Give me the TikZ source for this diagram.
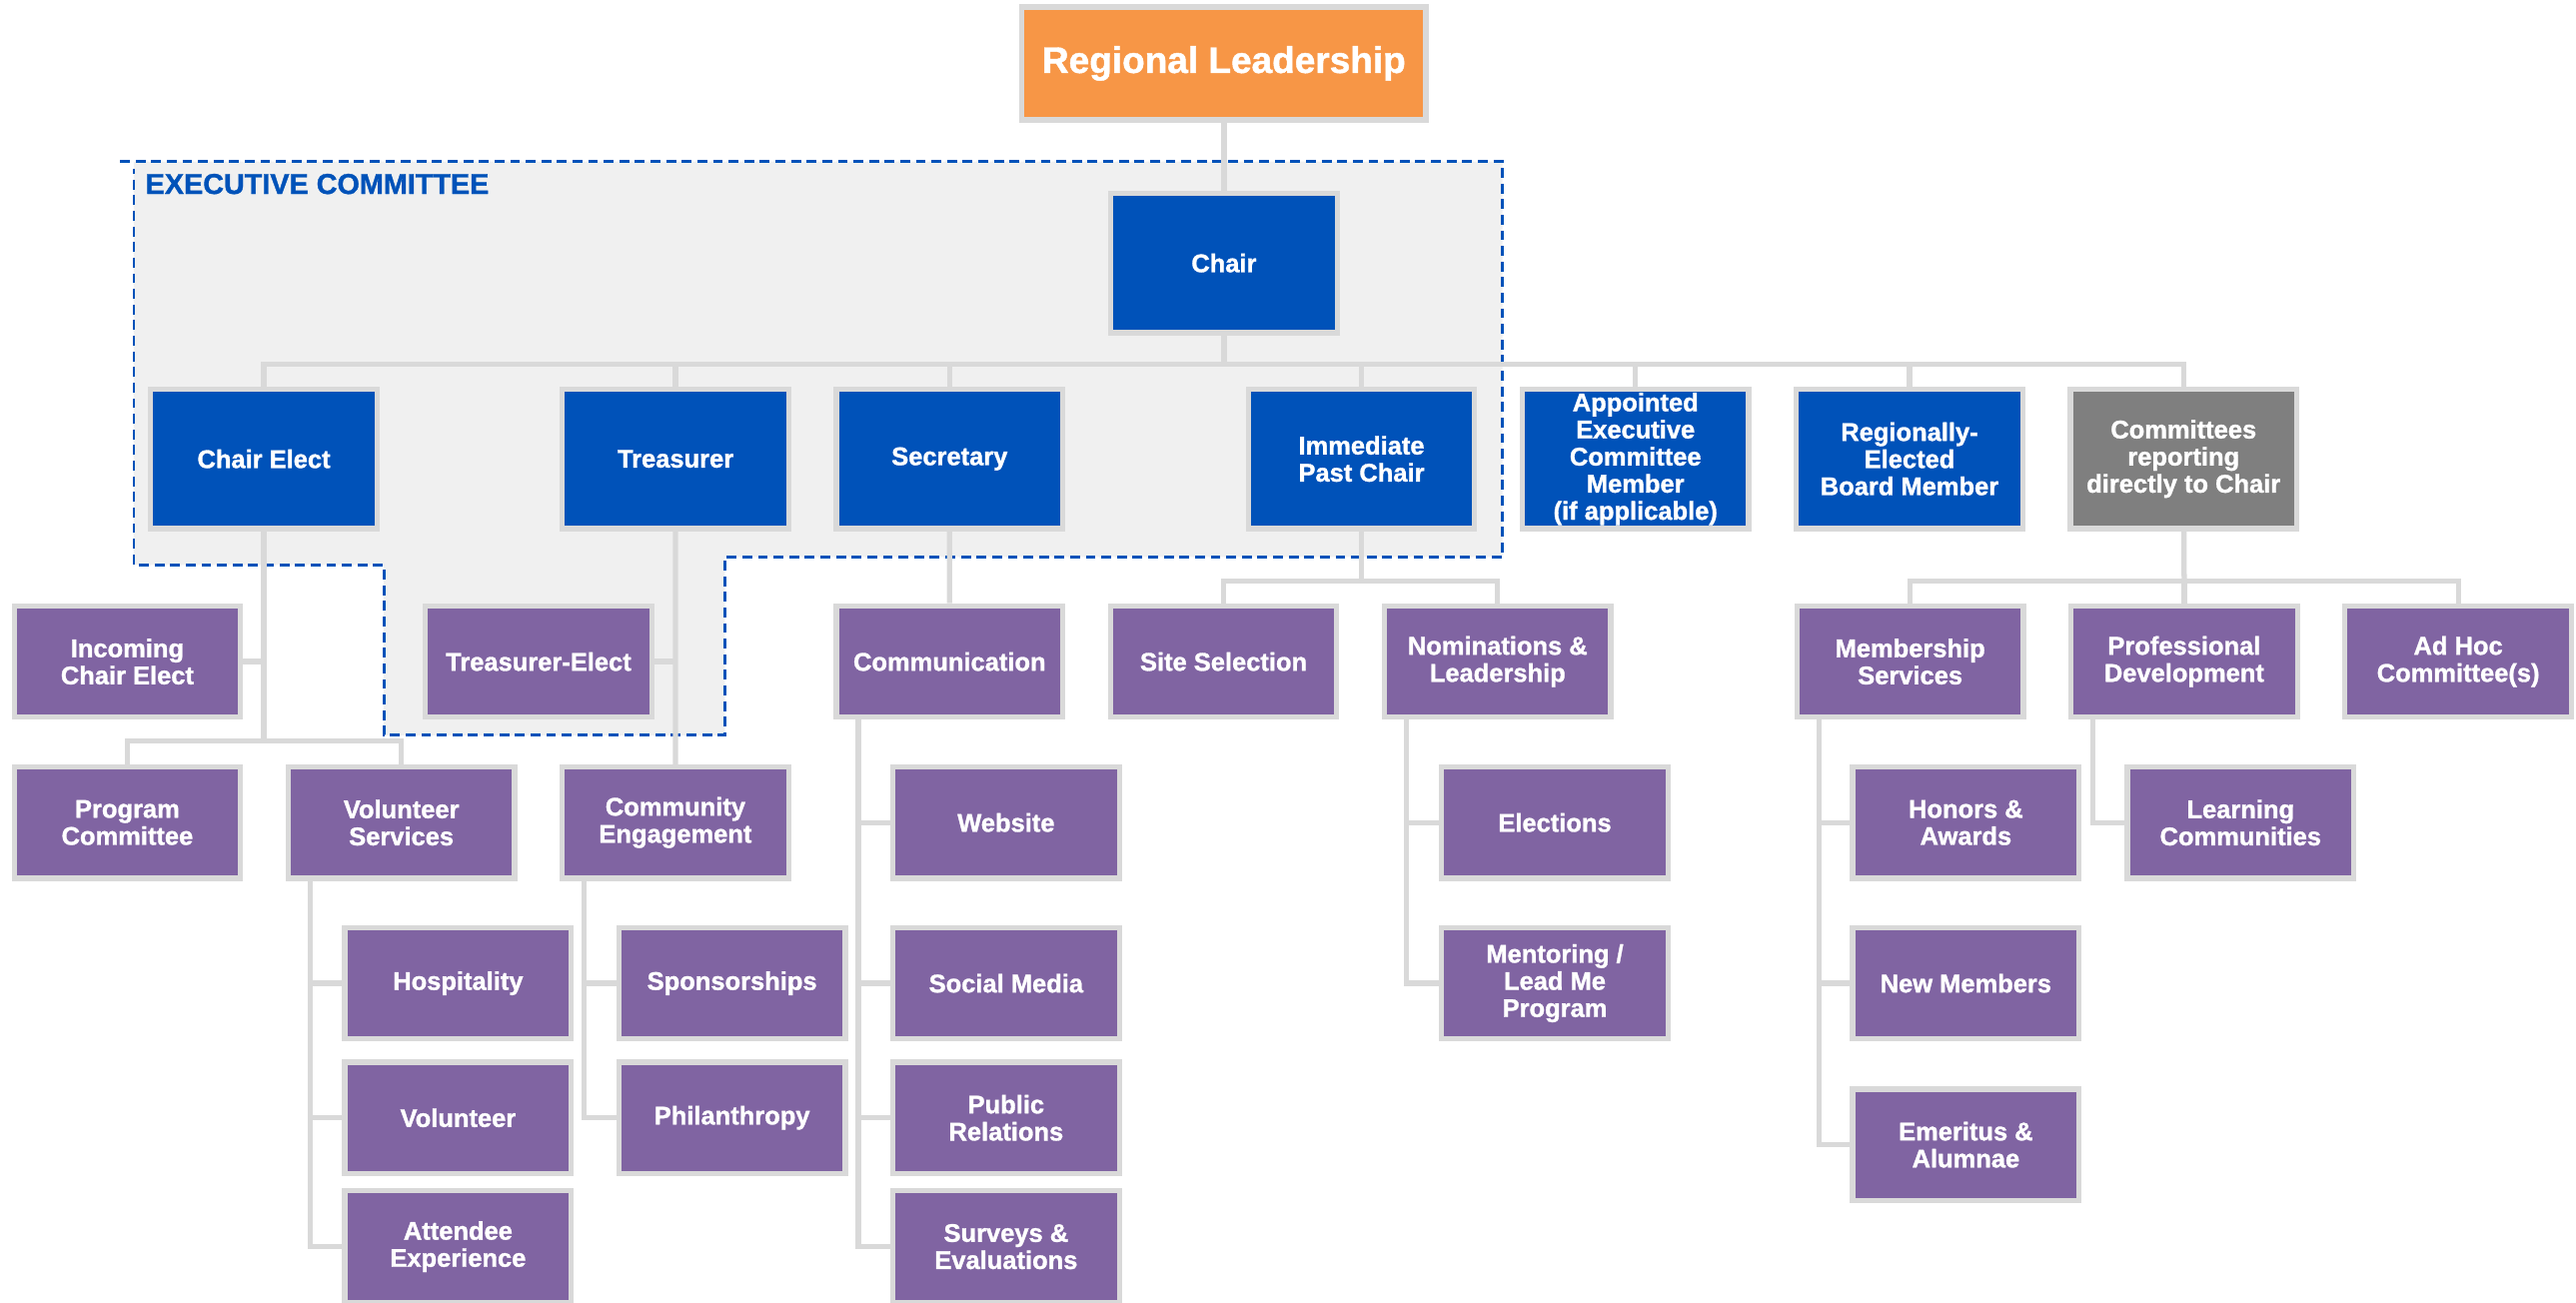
\documentclass[tikz,border=0pt]{standalone}
\usepackage{fontspec}
\setmainfont{Liberation Sans}[BoldFeatures={FakeBold=1.2}]
\usetikzlibrary{positioning}

\definecolor{leadorange}{HTML}{F79646}
\definecolor{execblue}{HTML}{0052B9}
\definecolor{teampurple}{HTML}{8064A2}
\definecolor{directgray}{HTML}{7F7F7F}
\definecolor{linegray}{HTML}{D9D9D9}
\definecolor{regionfill}{HTML}{F0F0F0}

\begin{document}
\begin{tikzpicture}[%
    x=1pt,
    y=-1pt,
    node distance=25.8pt,
    orgbox/.style={%
      rectangle,
      draw=linegray,
      line width=3.2pt,
      minimum width=137.8pt,
      minimum height=67.8pt,
      inner sep=0pt,
      align=center,
      text=white,
      font=\bfseries\fontsize{15.5}{16.5}\selectfont
    },
    officer/.style={orgbox, fill=execblue, minimum height=84.8pt},
    team/.style={orgbox, fill=teampurple},
    link/.style={linegray, line width=3.2pt}
  ]
    \useasboundingbox (0,0) rectangle (1568,793);

    % executive committee area
    \fill[regionfill] (81.5,98.3) -- (914.6,98.3) -- (914.6,339) -- (441.2,339)
        -- (441.2,447.5) -- (233.6,447.5) -- (233.6,343.8) -- (81.5,343.8) -- cycle;
    \draw[execblue, line width=1.8pt, dash pattern=on 6pt off 3.5pt]
        (73,98.3) -- (914.6,98.3) -- (914.6,339) -- (441.2,339) -- (441.2,447.5)
        -- (233.6,447.5) -- (233.6,343.8) -- (81.5,343.8) -- (81.5,103);
    \node[anchor=west, inner sep=0pt, text=execblue,
          font=\bfseries\fontsize{17.5}{18}\selectfont] (excom) at (88.4,112) {EXECUTIVE COMMITTEE};

    \node[orgbox, fill=leadorange, minimum width=245.8pt, minimum height=68.8pt,
          font=\bfseries\fontsize{22.5}{24}\selectfont] (lead) at (745,38.6) {Regional Leadership};
    \node[officer] (chair) at (745,160.1) {Chair};

    % officers
    \node[officer] (celect) at (160.6,279.3)  {Chair Elect};
    \node[officer] (treas)  at (411.2,279.3)  {Treasurer};
    \node[officer] (secr)   [right=of treas]  {Secretary};
    \node[officer] (ipc)    at (828.7,279.3)  {Immediate\\Past Chair};
    \node[officer] (appt)   [right=of ipc]    {Appointed\\Executive\\Committee\\Member\\(if applicable)};
    \node[officer] (rebm)   [right=of appt]   {Regionally-\\Elected\\Board Member};
    \node[officer, fill=directgray] (direct) [right=of rebm] {Committees\\reporting\\directly to Chair};

    % committees
    \node[team] (incel)   at (77.5,402.7)      {Incoming\\Chair Elect};
    \node[team] (trelect) at (327.8,402.7)     {Treasurer-Elect};
    \node[team] (comm)    at (578,402.7)       {Communication};
    \node[team] (site)    [right=of comm]      {Site Selection};
    \node[team] (nomin)   [right=of site]      {Nominations \&\\Leadership};
    \node[team] (member)  at (1162.7,402.7)    {Membership\\Services};
    \node[team] (profdev) [right=of member]    {Professional\\Development};
    \node[team] (adhoc)   [right=of profdev]   {Ad Hoc\\Committee(s)};

    \node[team] (program) at (77.5,500.7)      {Program\\Committee};
    \node[team] (volserv) [right=of program]   {Volunteer\\Services};
    \node[team] (commeng) [right=of volserv]   {Community\\Engagement};
    \node[team] (website) at (612.4,500.7)     {Website};
    \node[team] (elect)   at (946.4,500.7)     {Elections};
    \node[team] (honors)  at (1196.6,500.7)    {Honors \&\\Awards};
    \node[team] (learn)   at (1363.8,500.7)    {Learning\\Communities};

    \node[team] (hosp)      at (278.8,598.5)   {Hospitality};
    \node[team] (sponsor)   [right=of hosp]    {Sponsorships};
    \node[team] (social)    at (612.4,598.5)   {Social Media};
    \node[team] (mentor)    at (946.4,598.5)   {Mentoring /\\Lead Me\\Program};
    \node[team] (newmem)    at (1196.6,598.5)  {New Members};
    \node[team] (volunteer) at (278.8,680.4)   {Volunteer};
    \node[team] (philan)    [right=of volunteer] {Philanthropy};
    \node[team] (pubrel)    at (612.4,680.4)   {Public\\Relations};
    \node[team] (emerit)    at (1196.6,696.8)  {Emeritus \&\\Alumnae};
    \node[team] (attend)    at (278.8,758.8)   {Attendee\\Experience};
    \node[team] (survey)    at (612.4,758.8)   {Surveys \&\\Evaluations};

    % reporting lines
    \coordinate (bus)     at (745,221.8);
    \coordinate (cejoin)  at (160.6,450.8);
    \coordinate (ipcjoin) at (828.7,353.5);
    \coordinate (dirjoin) at (1329.5,353.5);

    \draw[link] (lead) -- (chair);
    \draw[link] (chair) -- (bus);
    \foreach \n in {celect,treas,secr,ipc,appt,rebm,direct}
        \draw[link] (bus) -| (\n);

    \draw[link] (celect) -- (cejoin);
    \draw[link] (cejoin) -| (program);
    \draw[link] (cejoin) -| (volserv);
    \draw[link] (incel.east) -- (incel.east -| celect);

    \draw[link] (treas) -- (commeng);
    \draw[link] (trelect.east) -- (trelect.east -| treas);
    \draw[link] (secr) -- (comm);

    \draw[link] (ipc) -- (ipcjoin);
    \draw[link] (ipcjoin) -| (site);
    \draw[link] (ipcjoin) -| (nomin);

    \draw[link] (direct) -- (dirjoin);
    \foreach \n in {member,profdev,adhoc}
        \draw[link] (dirjoin) -| (\n);

    \foreach \n in {hosp,volunteer,attend}
        \draw[link] ([xshift=15pt]volserv.south west) |- (\n);
    \foreach \n in {sponsor,philan}
        \draw[link] ([xshift=15pt]commeng.south west) |- (\n);
    \foreach \n in {website,social,pubrel,survey}
        \draw[link] ([xshift=15pt]comm.south west) |- (\n);
    \foreach \n in {elect,mentor}
        \draw[link] ([xshift=15pt]nomin.south west) |- (\n);
    \foreach \n in {honors,newmem,emerit}
        \draw[link] ([xshift=15pt]member.south west) |- (\n);
    \draw[link] ([xshift=15pt]profdev.south west) |- (learn);
  \end{tikzpicture}
\end{document}
